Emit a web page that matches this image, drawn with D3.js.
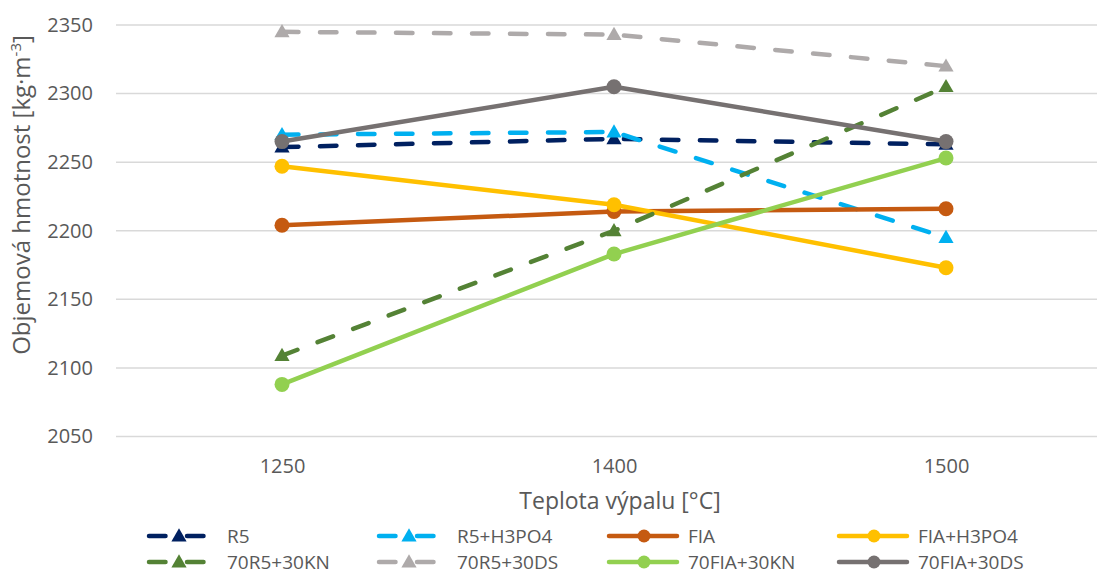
<!DOCTYPE html>
<html>
<head>
<meta charset="utf-8">
<script src="https://cdn.jsdelivr.net/npm/d3@7"></script>
<style>
  html, body { margin: 0; padding: 0; background: #ffffff; }
  svg { display: block; }
  text { font-family: "Open Sans", "Noto Sans", sans-serif; fill: #595959; }
</style>
</head>
<body>
<svg id="chart" width="1097" height="574"></svg>
<script>
// Firing temperatures (categories on the x axis)
const temperatures = ["1250", "1400", "1500"];

// Bulk density [kg·m⁻³] for each mixture
const seriesNames = ["R5", "R5+H3PO4", "FIA", "FIA+H3PO4",
                     "70R5+30KN", "70R5+30DS", "70FIA+30KN", "70FIA+30DS"];
const r5          = [2261, 2267, 2263];
const r5H3po4     = [2270, 2272, 2195];
const fia         = [2204, 2214, 2216];
const fiaH3po4    = [2247, 2219, 2173];
const r5Kn        = [2109, 2200, 2305];
const r5Ds        = [2345, 2343, 2320];
const fiaKn       = [2088, 2183, 2253];
const fiaDs       = [2265, 2305, 2265];

const yTicks = [2050, 2100, 2150, 2200, 2250, 2300, 2350];

const seriesValues = [r5, r5H3po4, fia, fiaH3po4, r5Kn, r5Ds, fiaKn, fiaDs];
const seriesColors = ["#002060", "#00B0F0", "#C55A11", "#FFC000",
                      "#548235", "#AEAAAA", "#92D050", "#767171"];
const seriesDashed = [true, true, false, false, true, true, false, false];

const series = seriesNames.map((name, i) => ({
  name,
  values: seriesValues[i],
  color: seriesColors[i],
  dashed: seriesDashed[i],
  marker: seriesDashed[i] ? "triangle" : "circle"
}));

const svg = d3.select("#chart");
const plot = { left: 116, right: 1112, top: 25, bottom: 436.5 };

const x = d3.scalePoint().domain(temperatures).range([plot.left, plot.right]).padding(0.5);
const y = d3.scaleLinear().domain([2050, 2350]).range([plot.bottom, plot.top]);

// Horizontal gridlines
svg.append("g")
  .selectAll("line")
  .data(yTicks)
  .join("line")
  .attr("x1", plot.left).attr("x2", plot.right)
  .attr("y1", d => y(d)).attr("y2", d => y(d))
  .attr("stroke", "#d9d9d9").attr("stroke-width", 1.5);

// Y axis tick labels
const yAxis = svg.append("g")
  .attr("transform", `translate(${plot.left},0)`)
  .call(d3.axisLeft(y).tickValues(yTicks).tickSize(0).tickPadding(23).tickFormat(d3.format("d")));
yAxis.select(".domain").remove();
yAxis.selectAll("text").attr("font-size", 20).attr("fill", "#595959")
  .style("font-family", "'Open Sans', sans-serif");

// X axis tick labels
const xAxis = svg.append("g")
  .attr("transform", `translate(0,${plot.bottom})`)
  .call(d3.axisBottom(x).tickSize(0).tickPadding(22));
xAxis.select(".domain").remove();
xAxis.selectAll("text").attr("font-size", 20).attr("fill", "#595959")
  .style("font-family", "'Open Sans', sans-serif");

// Axis titles
svg.append("text")
  .attr("x", 620).attr("y", 509)
  .attr("text-anchor", "middle")
  .attr("font-size", 23)
  .text("Teplota výpalu [°C]");

const yTitle = svg.append("text")
  .attr("transform", "translate(30,195) rotate(-90)")
  .attr("text-anchor", "middle")
  .attr("font-size", 24);
yTitle.append("tspan").text("Objemová hmotnost [kg·m");
yTitle.append("tspan").attr("font-size", 15).attr("dy", -9).text("-3");
yTitle.append("tspan").attr("dy", 9).text("]");

const dash = "16.5,21.5";
const lineW = 4.5;
const triangle = d3.symbol().type(d3.symbolTriangle).size(100);

function drawMarker(g, s, cx, cy, r) {
  if (s.marker === "circle") {
    g.append("circle").attr("cx", cx).attr("cy", cy).attr("r", r).attr("fill", s.color);
  } else {
    g.append("path").attr("d", triangle())
      .attr("transform", `translate(${cx},${cy + 1})`)
      .attr("fill", s.color);
  }
}

// Series lines and markers
const line = d3.line().x((d, i) => x(temperatures[i])).y(d => y(d));
const marks = svg.append("g");
series.forEach(s => {
  const g = marks.append("g");
  g.append("path")
    .attr("d", line(s.values))
    .attr("fill", "none")
    .attr("stroke", s.color)
    .attr("stroke-width", lineW)
    .attr("stroke-linecap", "round")
    .attr("stroke-linejoin", "round")
    .attr("stroke-dasharray", s.dashed ? dash : null);
  s.values.forEach((v, i) => drawMarker(g, s, x(temperatures[i]), y(v), 7.5));
});

// Legend: two rows of four entries
const legend = svg.append("g");
series.forEach((s, i) => {
  const col = i % 4, row = Math.floor(i / 4);
  const lx = 149 + col * 230, ly = 536 + row * 26;
  const g = legend.append("g");
  g.append("line")
    .attr("x1", lx).attr("x2", lx + 68)
    .attr("y1", ly).attr("y2", ly)
    .attr("stroke", s.color).attr("stroke-width", lineW)
    .attr("stroke-linecap", "round")
    .attr("stroke-dasharray", s.dashed ? dash : null);
  drawMarker(g, s, lx + (s.dashed ? 30 : 35), ly, 6.5);
  g.append("text")
    .attr("x", lx + (s.dashed ? 78 : 79)).attr("y", ly)
    .attr("dy", "0.35em")
    .attr("font-size", 19)
    .text(s.name);
});
</script>
</body>
</html>
